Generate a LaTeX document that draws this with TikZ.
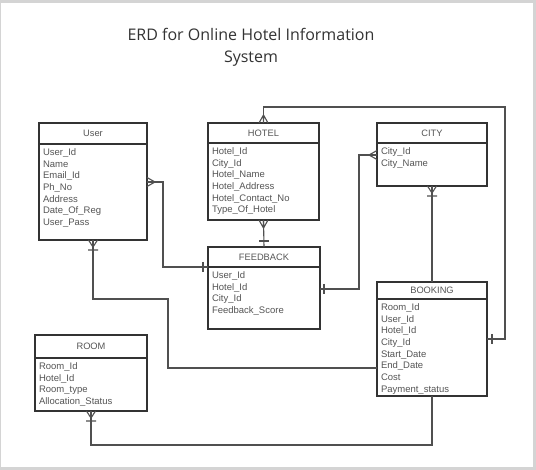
\documentclass[tikz,border=0pt]{standalone}
\usepackage{fontspec}
\setmainfont{Liberation Sans}
\newfontfamily\titlefont{Open Sans}
\usetikzlibrary{calc}
\definecolor{boxcol}{HTML}{333333}
\definecolor{linecol}{HTML}{505050}
\definecolor{txtcol}{HTML}{555555}
\definecolor{titlecol}{HTML}{333333}
\definecolor{framecol}{HTML}{D4D4D4}
\tikzset{
  entbox/.style={draw=boxcol, line width=1.8pt, fill=white, inner sep=0pt, outer sep=0pt},
  enthead/.style={draw=boxcol, line width=1.8pt, inner sep=0pt, outer sep=0pt, text=txtcol,
    font=\fontsize{9.3}{11}\selectfont},
  entattr/.style={inner sep=0pt, outer sep=0pt, align=left, text=txtcol,
    font=\fontsize{9.5}{11.7}\selectfont},
  conn/.style={draw=linecol, line width=1.1pt},
  many/.pic={\draw[conn] (0,-4.5) -- (8,0) -- (0,4.5) (0,0) -- (8,0);},
  onemany/.pic={\draw[conn] (0,-4.5) -- (7,0) -- (0,4.5) (0,0) -- (7,0) (10,-5) -- (10,5);},
  onebar/.pic={\draw[conn] (0,-5) -- (0,5);},
}
\newcommand\erdentity[8]{%
  \node[entbox, minimum width=#4pt, minimum height=#5pt, anchor=north west] (#1) at (#2,#3) {};
  \node[enthead, minimum width=#4pt, minimum height=#6pt, anchor=north west] (#1h) at (#2,#3) {#7};
  \node[entattr, anchor=north west] (#1a) at ($(#1h.south west)+(4,4.5)$) {#8};
}
\begin{document}
\begin{tikzpicture}[x=1pt,y=-1pt]
\useasboundingbox (0,0) rectangle (536,470);
\fill[framecol] (0,0) rectangle (536,470);
\fill[white] (1,3) rectangle (533,467);

\node[font=\titlefont\fontsize{16}{22}\selectfont, text=titlecol, align=center] (title) at (251,47)
  {ERD for Online Hotel Information\\System};

\coordinate (c1a) at (163,182);
\coordinate (c1b) at (163,267);
\coordinate (c3a) at (359,155);
\coordinate (c3b) at (359,289);
\coordinate (c5a) at (505,107);
\coordinate (c5b) at (505,339);
\coordinate (c6a) at (168,299);
\coordinate (c6b) at (168,368);
\coordinate (c7) at (432,445);

\erdentity{user}{39}{123}{108}{117}{21}{User}{User\_Id\\Name\\Email\_Id\\Ph\_No\\Address\\Date\_Of\_Reg\\User\_Pass}
\erdentity{hotel}{208}{123}{111}{97}{20}{HOTEL}{Hotel\_Id\\City\_Id\\Hotel\_Name\\Hotel\_Address\\Hotel\_Contact\_No\\Type\_Of\_Hotel}
\erdentity{city}{377}{123}{110}{63}{20}{CITY}{City\_Id\\City\_Name}
\erdentity{fbk}{208}{247}{112}{82}{20}{FEEDBACK}{User\_Id\\Hotel\_Id\\City\_Id\\Feedback\_Score}
\erdentity{book}{377}{282}{110}{114}{17}{BOOKING}{Room\_Id\\User\_Id\\Hotel\_Id\\City\_Id\\Start\_Date\\End\_Date\\Cost\\Payment\_status}
\erdentity{room}{35}{335}{112}{76}{23}{ROOM}{Room\_Id\\Hotel\_Id\\Room\_type\\Allocation\_Status}

% 1 user -> feedback
\draw[conn] (user.east |- c1a) -- (c1a) -- (c1b) -- (fbk.west |- c1b);
\pic at (user.east |- c1a) {many};
\pic at ($(fbk.west |- c1b)+(-5,0)$) {onebar};
% 2 hotel -> feedback
\draw[conn] (hotel.south) -- (fbk.north);
\pic[rotate=-90] at (hotel.south) {many};
\pic[rotate=90] at ($(fbk.north)+(0,-6)$) {onebar};
% 3 city -> feedback
\draw[conn] (city.west |- c3a) -- (c3a) -- (c3b) -- (fbk.east |- c3b);
\pic[rotate=180] at (city.west |- c3a) {many};
\pic at ($(fbk.east |- c3b)+(4,0)$) {onebar};
% 4 city -> booking
\draw[conn] (city.south) -- (book.north);
\pic[rotate=-90] at (city.south) {onemany};
% 5 hotel -> booking
\draw[conn] (hotel.north) |- (c5a) -- (c5b) -- (book.east |- c5b);
\pic[rotate=90] at (hotel.north) {many};
\pic at ($(book.east |- c5b)+(5,0)$) {onebar};
% 6 user -> booking
\draw[conn] (user.south) |- (c6a) -- (c6b) -- (book.west |- c6b);
\pic[rotate=-90] at (user.south) {onemany};
% 7 room -> booking
\draw[conn] (room.south) |- (c7) -- (book.south);
\pic[rotate=-90] at (room.south) {onemany};
\end{tikzpicture}
\end{document}
